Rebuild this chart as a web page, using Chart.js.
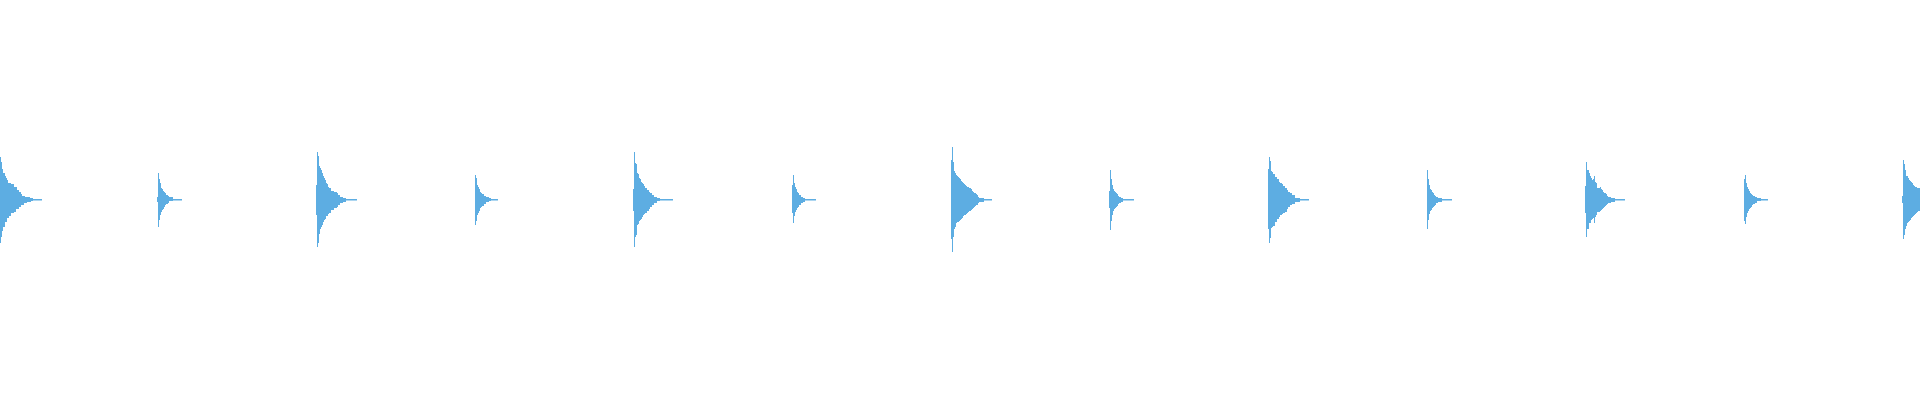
<!DOCTYPE html>
<html>
<head>
<meta charset="utf-8">
<script src="https://cdn.jsdelivr.net/npm/chart.js@4/dist/chart.umd.min.js"></script>
<style>
  html, body { margin: 0; padding: 0; background: #ffffff; }
  #wrap { width: 1920px; height: 400px; position: relative; }
</style>
</head>
<body>
<div id="wrap"><canvas id="c"></canvas></div>
<script>
// Waveform envelope: each beat = column of samples starting at a sample index.
// Amplitude units: full scale = ±200.
const beatStarts = [0, 157, 316, 475, 633, 792, 951, 1109, 1268, 1427, 1585, 1744, 1902];

const beatMax = [
  [43,38,31,27,27,24,22,20,17,17,17,16,16,16,13,13,13,10,10,8,8,6,4,4,4,3,3,3,3,3,2,2,2,1,1,1,1,1,1,1,1,1],
  [3,27,21,17,12,11,9,8,7,5,5,4,3,3,3,3,1,1,1,1,1,1,1,1,1],
  [15,48,44,34,32,30,27,24,22,20,17,16,13,12,12,9,9,9,8,8,8,7,5,5,3,3,3,2,2,2,1,1,1,1,1,1,1,1,1,1,1],
  [25,22,15,13,11,8,7,6,6,4,4,3,3,3,2,2,1,1,1,1,1,1,1],
  [11,48,37,36,27,26,22,21,18,17,16,14,12,12,10,10,8,7,7,5,5,3,3,3,2,2,2,1,1,1,1,1,1,1,1,1,1,1,1,1],
  [15,25,17,13,11,8,7,5,5,3,3,2,2,1,1,1,1,1,1,1,1,1,1,1],
  [40,53,38,29,27,25,24,23,22,21,19,18,17,16,15,14,13,13,12,12,11,9,8,7,7,6,5,3,2,2,2,2,2,1,1,1,1,1,1,1,1],
  [9,30,21,15,11,9,8,7,6,4,3,3,2,2,1,1,1,1,1,1,1,1,1,1,1],
  [31,43,39,29,28,26,26,23,23,21,21,18,17,17,16,14,14,12,12,10,8,8,7,7,5,5,5,2,2,2,2,2,1,1,1,1,1,1,1,1,1],
  [30,21,15,11,10,8,7,5,4,3,3,2,2,2,2,1,1,1,1,1,1,1,1,1,1],
  [14,38,30,30,27,24,22,20,21,24,18,17,12,12,12,13,11,10,8,7,7,6,4,3,3,3,2,2,2,2,1,1,1,1,1,1,1,1,1,1],
  [21,25,17,13,11,9,7,6,5,4,4,3,3,2,2,2,2,1,1,1,1,1,1,1],
  [4,40,36,30,24,24,22,20,19,18,17,15,14,13,13,12,12,12]
];

const beatMin = [
  [-43,-37,-31,-27,-27,-22,-22,-18,-18,-16,-16,-13,-13,-13,-12,-12,-9,-9,-9,-7,-7,-5,-5,-5,-3,-3,-3,-2,-2,-2,-2,-1,-1,-0.5,-0.5,-0.5,-0.5,-0.5,-0.5,-0.5,-0.5,-0.5],
  [-2,-27,-20,-15,-12,-10,-9,-7,-5,-4,-4,-3,-1,-1,-1,-1,-0.5,-0.5,-0.5,-0.5,-0.5,-0.5,-0.5,-0.5,-0.5],
  [-15,-47,-43,-34,-29,-27,-25,-22,-20,-19,-16,-16,-14,-13,-13,-10,-10,-10,-8,-8,-8,-7,-5,-5,-3,-3,-3,-2,-2,-2,-0.5,-0.5,-0.5,-0.5,-0.5,-0.5,-0.5,-0.5,-0.5,-0.5,-0.5],
  [-25,-21,-15,-13,-11,-8,-7,-6,-6,-4,-4,-2,-2,-2,-1,-1,-0.5,-0.5,-0.5,-0.5,-0.5,-0.5,-0.5],
  [-11,-47,-37,-35,-25,-24,-21,-20,-19,-17,-15,-14,-13,-13,-11,-11,-9,-7,-7,-5,-5,-3,-3,-3,-1,-1,-1,-0.5,-0.5,-0.5,-0.5,-0.5,-0.5,-0.5,-0.5,-0.5,-0.5,-0.5,-0.5,-0.5],
  [-13,-23,-16,-12,-10,-8,-7,-5,-5,-3,-3,-2,-2,-0.5,-0.5,-0.5,-0.5,-0.5,-0.5,-0.5,-0.5,-0.5,-0.5,-0.5],
  [-39,-52,-37,-29,-27,-23,-22,-22,-21,-20,-19,-18,-16,-15,-15,-14,-13,-12,-11,-11,-10,-9,-8,-7,-6,-5,-5,-3,-2,-2,-2,-2,-2,-0.5,-0.5,-0.5,-0.5,-0.5,-0.5,-0.5,-0.5],
  [-8,-30,-21,-15,-11,-9,-8,-7,-6,-4,-3,-3,-2,-2,-0.5,-0.5,-0.5,-0.5,-0.5,-0.5,-0.5,-0.5,-0.5,-0.5,-0.5],
  [-29,-43,-38,-28,-27,-26,-26,-22,-22,-19,-19,-17,-15,-15,-14,-13,-13,-12,-12,-9,-7,-7,-5,-5,-4,-4,-4,-2,-2,-2,-2,-2,-0.5,-0.5,-0.5,-0.5,-0.5,-0.5,-0.5,-0.5,-0.5],
  [-29,-20,-14,-11,-10,-8,-7,-6,-5,-3,-3,-2,-2,-2,-2,-0.5,-0.5,-0.5,-0.5,-0.5,-0.5,-0.5,-0.5,-0.5,-0.5],
  [-13,-37,-29,-29,-23,-23,-20,-19,-18,-23,-17,-15,-12,-12,-12,-11,-10,-9,-8,-7,-6,-5,-4,-3,-3,-3,-2,-2,-2,-2,-0.5,-0.5,-0.5,-0.5,-0.5,-0.5,-0.5,-0.5,-0.5,-0.5],
  [-21,-24,-17,-13,-11,-9,-8,-7,-5,-4,-4,-3,-3,-1,-1,-1,-1,-0.5,-0.5,-0.5,-0.5,-0.5,-0.5,-0.5],
  [-3,-39,-35,-29,-26,-23,-22,-21,-20,-18,-17,-16,-15,-14,-13,-12,-11,-11]
];

const totalSamples = 1920;
const waveColor = '#5dade2';

// Build floating-bar points [min, max] from the beat arrays
const points = [];
beatStarts.forEach((start, b) => {
  const hi = beatMax[b], lo = beatMin[b];
  for (let j = 0; j < hi.length; j++) {
    const idx = start + j;
    if (idx >= totalSamples) break;
    points.push({ x: idx, y: [lo[j], hi[j]] });
  }
});

new Chart(document.getElementById('c'), {
  type: 'bar',
  data: {
    datasets: [{
      data: points,
      backgroundColor: waveColor,
      borderWidth: 0,
      barThickness: 1,
      inflateAmount: 0,
      grouped: false
    }]
  },
  options: {
    responsive: true,
    maintainAspectRatio: false,
    animation: false,
    layout: { padding: 0 },
    plugins: { legend: { display: false }, tooltip: { enabled: false } },
    scales: {
      x: { type: 'linear', min: -0.5, max: totalSamples - 0.5, display: false, offset: false },
      y: { min: -200, max: 200, display: false }
    }
  }
});
</script>
</body>
</html>
